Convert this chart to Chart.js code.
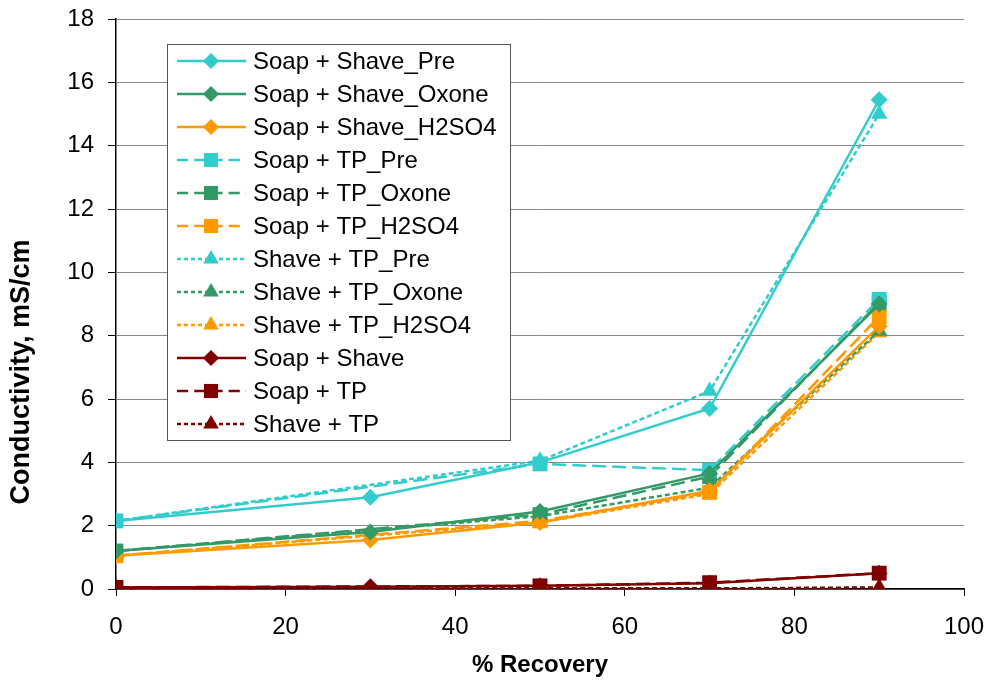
<!DOCTYPE html>
<html>
<head>
<meta charset="utf-8">
<script src="https://cdn.jsdelivr.net/npm/chart.js@4/dist/chart.umd.min.js"></script>
<style>
  html, body { margin: 0; padding: 0; background: #fff; }
  #wrap { width: 992px; height: 684px; }
</style>
</head>
<body>
<div id="wrap"><canvas id="cond-chart" width="992" height="684"></canvas></div>
<script>
// recovery points (%)
const xSoapShave = [0, 30, 50, 70, 90];
const xOther = [0, 50, 70, 90];

// conductivity, mS/cm
const soapShavePre   = [2.15, 2.9, 4.0, 5.7, 15.45];
const soapShaveOxone = [1.2, 1.8, 2.45, 3.65, 9.0];
const soapShaveH2so4 = [1.05, 1.55, 2.1, 3.1, 8.3];
const soapTpPre      = [2.15, 3.95, 3.75, 9.15];
const soapTpOxone    = [1.2, 2.35, 3.55, 9.05];
const soapTpH2so4    = [1.05, 2.15, 3.05, 8.6];
const shaveTpPre     = [2.15, 4.05, 6.25, 15.0];
const shaveTpOxone   = [1.2, 2.3, 3.2, 8.15];
const shaveTpH2so4   = [1.05, 2.1, 3.0, 8.1];
const soapShave      = [0.05, 0.07, 0.1, 0.18, 0.5];
const soapTp         = [0.05, 0.1, 0.2, 0.5];
const shaveTp        = [0.05, 0.02, 0.02, 0.05];

const yTicks = [0, 2, 4, 6, 8, 10, 12, 14, 16, 18];
const xTicks = [0, 20, 40, 60, 80, 100];
const yTitle = 'Conductivity, mS/cm';

const CYAN = '#33CCCC', GREEN = '#339966', ORANGE = '#FF9900', MAROON = '#800000';
const SOLID = [], LONG = [14, 6], SHORT = [5, 3];
const FONT = '"Liberation Sans", Arial, sans-serif';

function pts(xs, ys) { return xs.map((x, i) => ({ x: x, y: ys[i] })); }

function ds(label, xs, ys, color, dash, shape) {
  const r = shape === 'rectRot' ? 8.5 : (shape === 'rect' ? 10.5 : 9.5);
  return {
    label: label,
    data: pts(xs, ys),
    borderColor: color,
    backgroundColor: color,
    borderWidth: 2.5,
    borderDash: dash,
    pointStyle: shape,
    pointRadius: r,
    pointBorderWidth: 0,
    pointBorderColor: color,
    tension: 0
  };
}

const datasets = [
  ds('Soap + Shave_Pre', xSoapShave, soapShavePre, CYAN, SOLID, 'rectRot'),
  ds('Soap + Shave_Oxone', xSoapShave, soapShaveOxone, GREEN, SOLID, 'rectRot'),
  ds('Soap + Shave_H2SO4', xSoapShave, soapShaveH2so4, ORANGE, SOLID, 'rectRot'),
  ds('Soap + TP_Pre', xOther, soapTpPre, CYAN, LONG, 'rect'),
  ds('Soap + TP_Oxone', xOther, soapTpOxone, GREEN, LONG, 'rect'),
  ds('Soap + TP_H2SO4', xOther, soapTpH2so4, ORANGE, LONG, 'rect'),
  ds('Shave + TP_Pre', xOther, shaveTpPre, CYAN, SHORT, 'triangle'),
  ds('Shave + TP_Oxone', xOther, shaveTpOxone, GREEN, SHORT, 'triangle'),
  ds('Shave + TP_H2SO4', xOther, shaveTpH2so4, ORANGE, SHORT, 'triangle'),
  ds('Soap + Shave', xSoapShave, soapShave, MAROON, SOLID, 'rectRot'),
  ds('Soap + TP', xOther, soapTp, MAROON, LONG, 'rect'),
  ds('Shave + TP', xOther, shaveTp, MAROON, SHORT, 'triangle')
];

// legend box drawn inside the plot, Excel style
const boxLegend = {
  id: 'boxLegend',
  afterDatasetsDraw(chart) {
    const ctx = chart.ctx;
    const left = 167, top = 44, w = 343, h = 396, rowH = 33;
    ctx.save();
    ctx.fillStyle = '#fff';
    ctx.fillRect(left, top, w, h);
    ctx.strokeStyle = '#555';
    ctx.lineWidth = 1;
    ctx.strokeRect(left + 0.5, top + 0.5, w, h);
    ctx.font = '24px ' + FONT;
    ctx.textBaseline = 'middle';
    chart.data.datasets.forEach((d, i) => {
      const y = top + 17 + i * rowH;
      ctx.strokeStyle = d.borderColor;
      ctx.lineWidth = 2.5;
      ctx.setLineDash(d.borderDash.length ? [d.borderDash[0] * 0.8, d.borderDash[1]] : []);
      ctx.beginPath();
      ctx.moveTo(177, y);
      ctx.lineTo(246, y);
      ctx.stroke();
      ctx.setLineDash([]);
      ctx.fillStyle = d.backgroundColor;
      Chart.helpers.drawPoint(ctx, {
        pointStyle: d.pointStyle, radius: d.pointRadius * 0.95, borderWidth: 0
      }, 211, y);
      ctx.fillStyle = '#000';
      ctx.fillText(d.label, 253, y + 1);
    });
    ctx.restore();
  }
};

// y axis title sits a little below the plot centre in the original
const yTitlePlugin = {
  id: 'yTitlePlugin',
  afterDraw(chart) {
    const ctx = chart.ctx;
    ctx.save();
    ctx.translate(22, 372);
    ctx.rotate(-Math.PI / 2);
    ctx.font = 'bold 27px ' + FONT;
    ctx.fillStyle = '#000';
    ctx.textAlign = 'center';
    ctx.textBaseline = 'middle';
    ctx.fillText(yTitle, 0, 0);
    ctx.restore();
  }
};

new Chart(document.getElementById('cond-chart'), {
  type: 'line',
  data: { datasets: datasets },
  plugins: [boxLegend, yTitlePlugin],
  options: {
    responsive: false,
    animation: false,
    layout: { padding: { left: 0, right: 28, top: 19, bottom: 0 } },
    plugins: { legend: { display: false }, tooltip: { enabled: false } },
    scales: {
      x: {
        type: 'linear',
        min: 0, max: 100,
        afterBuildTicks: s => { s.ticks = xTicks.map(v => ({ value: v })); },
        afterFit: s => { s.height = 95; s.paddingLeft = 0; s.paddingRight = 0; },
        grid: { display: true, drawOnChartArea: false, color: '#000', tickLength: 7 },
        border: { display: true, color: '#000', width: 1.5 },
        ticks: { color: '#000', font: { family: FONT, size: 24 }, padding: 17, maxRotation: 0 },
        title: { display: true, text: '% Recovery', color: '#000',
          font: { family: FONT, size: 24, weight: 'bold' }, padding: { top: 0, bottom: 4 } }
      },
      y: {
        min: 0, max: 18,
        afterBuildTicks: s => { s.ticks = yTicks.map(v => ({ value: v })); },
        afterFit: s => { s.width = 116; s.paddingTop = 0; s.paddingBottom = 0; },
        grid: { color: '#888', lineWidth: 1, tickLength: 8, tickColor: '#000' },
        border: { display: true, color: '#000', width: 1.5 },
        ticks: { color: '#000', font: { family: FONT, size: 24 }, padding: 14 },
        title: { display: false }
      }
    }
  }
});
</script>
</body>
</html>
